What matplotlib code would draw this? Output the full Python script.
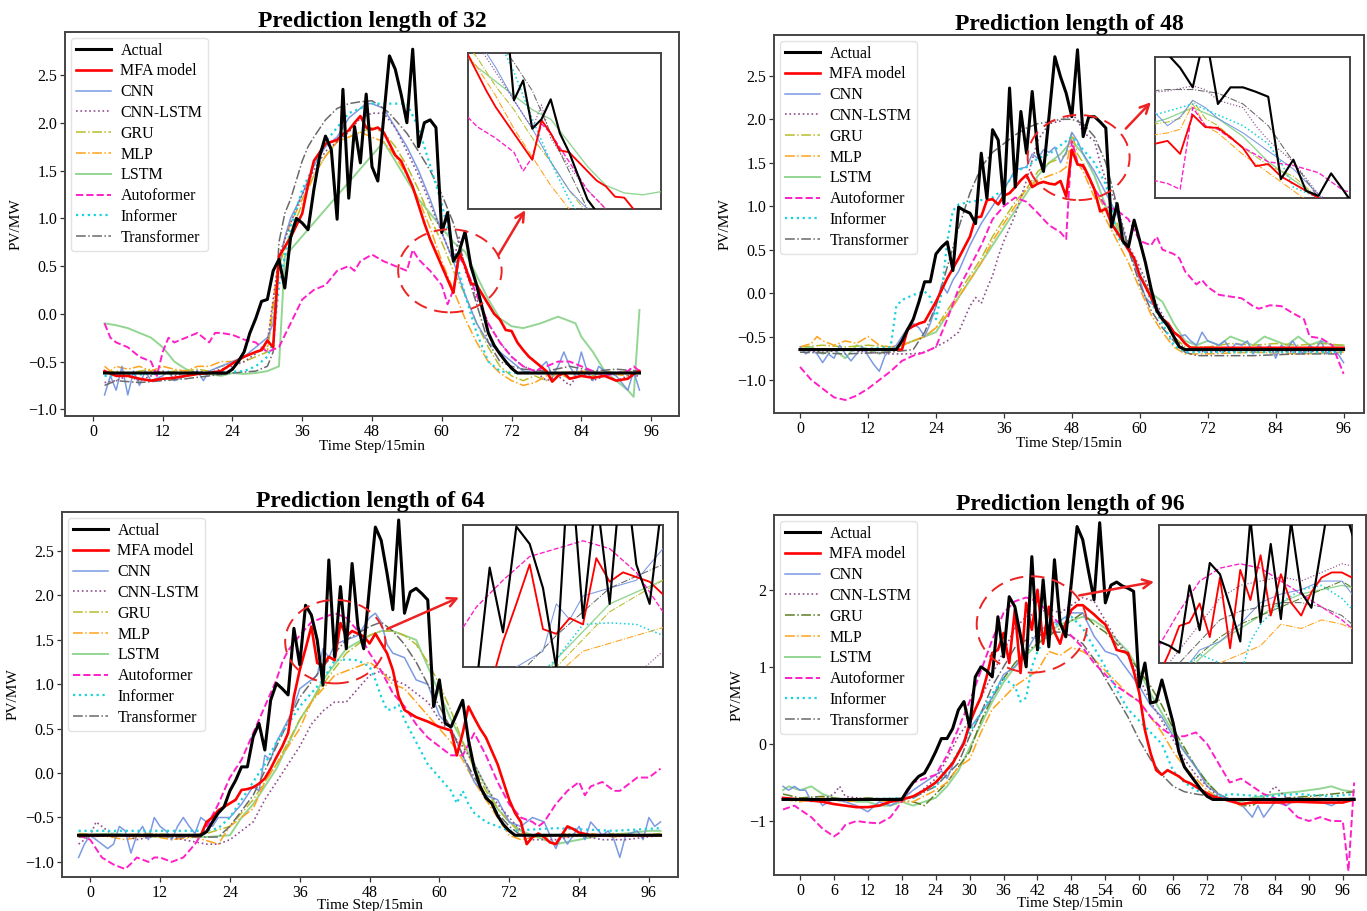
import matplotlib
matplotlib.use("Agg")
import matplotlib.pyplot as plt
from matplotlib.patches import Ellipse

plt.rcParams['font.family'] = ['Liberation Serif', 'DejaVu Serif']

# ---------------- data (step, PV/MW) ----------------
NAMES = ['Actual', 'MFA model', 'CNN', 'CNN-LSTM', 'GRU', 'MLP', 'LSTM',
         'Autoformer', 'Informer', 'Transformer']
TITLES = ['Prediction length of 32', 'Prediction length of 48',
          'Prediction length of 64', 'Prediction length of 96']

# ---- Prediction length 32 ----
P32_ACTUAL = [(2,-0.62),(23,-0.62),(24,-0.58),(25,-0.5),(26,-0.4),(27,-0.2),(28,-0.05),(29,0.13),(30,0.15),(31,0.45),
              (32,0.57),(33,0.27),(34,0.8),(35,1.0),(36,0.95),(37,0.88),(38,1.3),(39,1.65),(40,1.86),(41,1.72),
              (42,0.99),(43,2.35),(44,1.21),(45,1.96),(46,1.58),(47,2.30),(48,1.54),(49,1.39),(50,2.05),(51,2.70),
              (52,2.56),(53,2.3),(54,2.0),(55,2.77),(56,1.75),(57,2.0),(58,2.03),(59,1.95),(60,0.85),(61,1.06),
              (62,0.55),(63,0.65),(64,0.86),(65,0.5),(66,0.3),(67,0.05),(68,-0.2),(69,-0.33),(70,-0.42),(71,-0.5),
              (72,-0.57),(73,-0.62),(94,-0.62)]
P32_MFA = [(2,-0.6),(4,-0.65),(6,-0.65),(8,-0.68),(10,-0.7),(12,-0.68),(14,-0.67),(16,-0.65),(18,-0.63),(20,-0.62),
           (22,-0.6),(24,-0.52),(26,-0.45),(28,-0.4),(29,-0.38),(30,-0.28),(31,-0.35),(32,0.6),(34,0.8),(36,1.05),
           (37,1.35),(38,1.6),(40,1.78),(42,1.82),(43,1.88),(44,1.92),(45,2.0),(46,2.07),(47,1.95),(48,1.93),
           (49,1.95),(50,1.9),(52,1.66),(53,1.6),(55,1.33),(57,0.95),(58,0.78),(60,0.5),(62,0.22),(63,0.64),
           (64,0.5),(65,0.32),(66,0.3),(67,0.2),(68,0.1),(69,0.0),(70,-0.06),(71,-0.17),(72,-0.18),(73,-0.3),
           (74,-0.38),(75,-0.45),(77,-0.55),(78,-0.6),(79,-0.71),(80,-0.65),(81,-0.62),(82,-0.68),(84,-0.65),
           (86,-0.67),(88,-0.65),(90,-0.7),(92,-0.68),(93,-0.63),(94,-0.6)]
P32_CNN = [(2,-0.85),(3,-0.65),(4,-0.8),(5,-0.55),(6,-0.85),(7,-0.6),(8,-0.75),(9,-0.6),(10,-0.7),(12,-0.65),
           (13,-0.6),(14,-0.7),(16,-0.65),(18,-0.6),(19,-0.7),(20,-0.6),(22,-0.55),(24,-0.5),(26,-0.45),(28,-0.35),
           (30,-0.25),(31,-0.1),(32,0.5),(33,0.8),(34,1.0),(36,1.25),(38,1.55),(40,1.75),(42,1.85),(44,2.05),
           (46,2.15),(47,2.2),(48,2.2),(50,2.15),(52,1.95),(54,1.75),(56,1.5),(58,1.2),(60,0.85),(62,0.55),
           (64,0.2),(66,-0.1),(68,-0.3),(70,-0.4),(71,-0.45),(72,-0.5),(74,-0.6),(76,-0.62),(78,-0.5),(79,-0.65),
           (80,-0.55),(81,-0.4),(82,-0.55),(83,-0.65),(84,-0.4),(85,-0.6),(86,-0.7),(87,-0.55),(88,-0.6),
           (90,-0.65),(92,-0.8),(93,-0.6),(94,-0.8)]
P32_CNNLSTM = [(2,-0.72),(4,-0.7),(6,-0.65),(8,-0.7),(10,-0.65),(12,-0.6),(14,-0.65),(16,-0.62),(18,-0.6),(20,-0.62),
               (22,-0.58),(24,-0.55),(26,-0.5),(28,-0.42),(30,-0.3),(32,0.6),(34,0.95),(36,1.25),(38,1.5),(40,1.7),
               (42,1.8),(44,1.9),(46,2.05),(48,2.1),(50,2.1),(52,1.95),(54,1.7),(56,1.45),(58,1.15),(60,0.85),
               (62,0.55),(63,0.8),(64,0.45),(66,0.15),(68,-0.1),(70,-0.3),(72,-0.45),(74,-0.55),(76,-0.6),(78,-0.7),
               (80,-0.65),(82,-0.75),(84,-0.6),(86,-0.7),(88,-0.65),(90,-0.7),(92,-0.65),(94,-0.65)]
P32_GRU = [(2,-0.62),(4,-0.6),(6,-0.62),(8,-0.6),(10,-0.58),(12,-0.62),(14,-0.6),(16,-0.6),(18,-0.58),(20,-0.6),
           (22,-0.55),(24,-0.52),(26,-0.5),(28,-0.45),(30,-0.4),(32,0.5),(34,0.85),(36,1.15),(38,1.45),(40,1.65),
           (42,1.8),(44,1.85),(46,1.9),(48,1.95),(50,1.9),(52,1.75),(54,1.55),(56,1.3),(58,1.0),(60,0.75),
           (62,0.45),(64,0.2),(66,-0.1),(68,-0.35),(70,-0.55),(72,-0.65),(74,-0.7),(76,-0.65),(78,-0.7),
           (80,-0.62),(82,-0.68),(84,-0.6),(86,-0.65),(88,-0.6),(90,-0.62),(92,-0.6),(94,-0.62)]
P32_MLP = [(2,-0.55),(3,-0.6),(4,-0.55),(6,-0.58),(8,-0.55),(10,-0.6),(12,-0.55),(14,-0.58),(16,-0.6),(18,-0.55),
           (20,-0.55),(22,-0.5),(24,-0.5),(26,-0.45),(28,-0.4),(30,-0.35),(32,0.6),(34,0.95),(36,1.2),(38,1.45),
           (40,1.65),(42,1.8),(44,1.85),(46,1.9),(48,1.85),(50,1.8),(52,1.65),(54,1.45),(56,1.2),(58,0.9),
           (60,0.55),(62,0.25),(64,-0.05),(66,-0.3),(68,-0.5),(70,-0.62),(72,-0.7),(74,-0.75),(76,-0.72),
           (78,-0.65),(80,-0.62),(84,-0.6),(88,-0.62),(92,-0.65),(94,-0.6)]
P32_LSTM = [(2,-0.1),(4,-0.12),(6,-0.15),(8,-0.2),(10,-0.25),(12,-0.35),(14,-0.5),(16,-0.58),(18,-0.62),(20,-0.63),
            (22,-0.65),(24,-0.62),(26,-0.63),(28,-0.62),(30,-0.6),(32,-0.55),(33,0.6),(50,1.8),(52,1.6),(56,1.2),
            (60,0.9),(62,0.75),(64,0.65),(66,0.4),(68,0.15),(70,-0.05),(72,-0.13),(74,-0.15),(77,-0.1),
            (80,-0.03),(83,-0.1),(84,-0.24),(86,-0.4),(88,-0.6),(90,-0.7),(92,-0.8),(93,-0.87),(94,0.04)]
P32_AUTO = [(2,-0.1),(3,-0.25),(4,-0.3),(6,-0.35),(8,-0.45),(10,-0.5),(11,-0.65),(12,-0.4),(13,-0.25),(14,-0.3),
            (16,-0.25),(18,-0.2),(20,-0.3),(21,-0.2),(22,-0.2),(24,-0.22),(26,-0.27),(28,-0.3),(30,-0.4),
            (32,-0.35),(34,-0.1),(36,0.15),(38,0.25),(40,0.3),(42,0.45),(44,0.5),(45,0.45),(46,0.55),(48,0.62),
            (50,0.55),(52,0.5),(54,0.45),(55,0.67),(56,0.57),(58,0.45),(60,0.3),(61,0.1),(62,0.25),(63,0.6),
            (64,0.5),(66,0.2),(68,-0.1),(70,-0.3),(72,-0.45),(74,-0.55),(76,-0.6),(78,-0.55),(80,-0.5),
            (82,-0.5),(84,-0.55),(86,-0.6),(88,-0.65),(90,-0.62),(92,-0.6),(93,-0.55),(94,-0.6)]
P32_INFORMER = [(2,-0.65),(10,-0.63),(20,-0.62),(26,-0.6),(28,-0.55),(30,-0.45),(31,-0.3),(32,0.3),(34,0.9),
                (36,1.3),(38,1.55),(40,1.8),(42,1.95),(44,2.1),(46,2.15),(48,2.2),(50,2.2),(52,2.2),(54,2.2),
                (56,1.95),(58,1.55),(60,1.15),(62,0.65),(64,0.2),(66,-0.2),(68,-0.5),(70,-0.6),(72,-0.62),
                (80,-0.62),(94,-0.62)]
P32_TRANS = [(2,-0.75),(4,-0.7),(8,-0.72),(12,-0.7),(16,-0.68),(20,-0.65),(24,-0.62),(28,-0.6),(30,-0.55),
             (31,-0.4),(32,0.75),(33,1.05),(34,1.2),(36,1.6),(37,1.75),(38,1.85),(40,2.03),(42,2.15),(44,2.2),
             (46,2.22),(48,2.23),(50,2.15),(51,2.1),(54,1.89),(56,1.7),(58,1.5),(60,1.25),(62,0.95),(64,0.5),
             (66,0.1),(68,-0.3),(70,-0.5),(72,-0.55),(74,-0.58),(78,-0.6),(82,-0.55),(86,-0.6),(90,-0.58),
             (94,-0.6)]

# ---- Prediction length 48 ----
P48_ACTUAL = [(0,-0.65),(17,-0.65),(18,-0.55),(19,-0.42),(20,-0.3),(21,-0.1),(22,0.13),(23,0.13),(24,0.45),
              (25,0.53),(26,0.59),(27,0.26),(28,0.99),(29,0.95),(30,0.92),(31,0.8),(32,1.61),(33,1.09),(34,1.88),
              (35,1.76),(36,1.03),(37,2.36),(38,1.22),(39,2.09),(40,1.61),(41,2.32),(42,1.61),(43,1.40),(44,2.05),
              (45,2.72),(46,2.49),(47,2.3),(48,2.03),(49,2.80),(50,1.8),(51,2.03),(52,2.03),(53,1.97),(54,1.9),
              (55,0.76),(56,1.03),(57,0.6),(58,0.53),(59,0.84),(60,0.6),(61,0.35),(62,0.05),(63,-0.2),(64,-0.3),
              (65,-0.38),(66,-0.5),(67,-0.62),(68,-0.65),(96,-0.65)]
P48_MFA = [(0,-0.65),(18,-0.65),(19,-0.42),(20,-0.38),(21,-0.35),(22,-0.33),(24,-0.1),(26,0.17),(28,0.4),
           (30,0.65),(31,0.87),(32,0.88),(33,1.07),(34,1.08),(35,1.02),(36,1.12),(37,1.15),(38,1.22),(39,1.3),
           (40,1.36),(41,1.22),(42,1.26),(43,1.28),(44,1.26),(45,1.25),(46,1.29),(47,1.11),(48,1.65),(49,1.48),
           (50,1.47),(51,1.34),(52,1.19),(53,0.94),(54,0.97),(55,0.8),(57,0.6),(58,0.5),(59,0.4),(60,0.2),
           (62,-0.05),(63,-0.2),(64,-0.3),(65,-0.35),(66,-0.45),(67,-0.5),(68,-0.58),(69,-0.63),(96,-0.63)]
P48_CNN = [(0,-0.62),(1,-0.7),(2,-0.65),(3,-0.7),(4,-0.8),(5,-0.7),(6,-0.75),(7,-0.6),(8,-0.7),(9,-0.78),
           (10,-0.7),(11,-0.62),(12,-0.72),(13,-0.82),(14,-0.9),(15,-0.72),(16,-0.65),(17,-0.6),(18,-0.5),
           (19,-0.4),(20,-0.35),(21,-0.4),(22,-0.5),(23,-0.35),(24,-0.15),(25,0.1),(26,0.0),(27,0.15),(28,0.25),
           (30,0.55),(32,0.8),(34,1.0),(36,1.2),(37,1.3),(38,1.42),(40,1.45),(41,1.6),(42,1.55),(43,1.65),
           (44,1.62),(45,1.68),(46,1.5),(47,1.62),(48,1.85),(49,1.75),(50,1.6),(52,1.4),(54,1.15),(56,0.9),
           (58,0.55),(60,0.15),(61,-0.05),(62,-0.12),(63,-0.15),(64,-0.3),(65,-0.35),(66,-0.45),(67,-0.5),
           (68,-0.48),(69,-0.55),(70,-0.6),(71,-0.45),(72,-0.55),(74,-0.6),(75,-0.55),(76,-0.65),(77,-0.58),
           (78,-0.6),(79,-0.55),(80,-0.7),(81,-0.6),(82,-0.65),(83,-0.6),(84,-0.75),(85,-0.6),(86,-0.65),
           (87,-0.55),(88,-0.65),(89,-0.7),(90,-0.6),(91,-0.65),(92,-0.55),(93,-0.7),(94,-0.65),(95,-0.7),
           (96,-0.8)]
P48_CNNLSTM = [(0,-0.65),(4,-0.68),(8,-0.65),(12,-0.68),(16,-0.7),(20,-0.7),(22,-0.68),(24,-0.62),(26,-0.55),
               (28,-0.45),(29,-0.3),(30,-0.15),(31,-0.05),(32,-0.12),(33,0.05),(34,0.2),(35,0.42),(36,0.6),
               (38,0.9),(39,1.1),(40,1.3),(42,1.76),(44,1.95),(46,1.98),(48,2.05),(49,2.0),(50,1.85),(52,1.75),
               (53,1.5),(54,1.3),(56,1.0),(58,0.55),(60,0.3),(62,0.0),(64,-0.25),(66,-0.5),(68,-0.65),
               (72,-0.68),(80,-0.65),(88,-0.68),(96,-0.65)]
P48_GRU = [(0,-0.62),(4,-0.6),(8,-0.62),(12,-0.6),(16,-0.62),(18,-0.6),(20,-0.55),(22,-0.5),(24,-0.4),(26,-0.2),
           (28,0.0),(30,0.2),(32,0.4),(34,0.65),(36,0.85),(38,1.05),(40,1.2),(42,1.4),(44,1.5),(46,1.55),
           (47,1.6),(48,1.85),(49,1.6),(50,1.5),(52,1.2),(54,0.95),(56,0.8),(58,0.5),(60,0.2),(62,-0.05),
           (64,-0.3),(66,-0.5),(68,-0.62),(72,-0.62),(76,-0.58),(80,-0.6),(84,-0.58),(88,-0.6),(92,-0.58),
           (96,-0.6)]
P48_MLP = [(0,-0.62),(2,-0.58),(3,-0.5),(4,-0.55),(6,-0.6),(8,-0.55),(10,-0.58),(12,-0.5),(13,-0.55),(14,-0.6),
           (16,-0.62),(18,-0.6),(20,-0.55),(22,-0.5),(24,-0.4),(26,-0.25),(28,-0.05),(30,0.15),(32,0.35),
           (34,0.6),(36,0.8),(38,1.0),(40,1.2),(42,1.3),(44,1.35),(46,1.4),(47,1.45),(48,1.8),(49,1.5),
           (50,1.4),(52,1.1),(54,0.85),(56,0.6),(58,0.35),(60,0.05),(62,-0.25),(64,-0.45),(66,-0.62),
           (68,-0.7),(72,-0.7),(80,-0.68),(88,-0.7),(96,-0.68)]
P48_LSTM = [(0,-0.65),(2,-0.62),(4,-0.7),(6,-0.65),(8,-0.75),(10,-0.6),(12,-0.65),(14,-0.7),(16,-0.65),(18,-0.6),
            (20,-0.55),(22,-0.5),(24,-0.45),(26,-0.25),(28,-0.05),(30,0.15),(32,0.35),(34,0.55),(36,0.75),
            (38,0.95),(40,1.15),(42,1.35),(44,1.5),(46,1.6),(48,1.75),(50,1.6),(52,1.35),(54,1.0),(56,0.75),
            (58,0.5),(60,0.2),(62,0.0),(64,-0.1),(66,-0.35),(68,-0.55),(70,-0.6),(72,-0.55),(74,-0.6),
            (76,-0.5),(78,-0.55),(80,-0.6),(82,-0.5),(84,-0.55),(86,-0.6),(88,-0.5),(90,-0.6),(92,-0.55),
            (94,-0.6),(96,-0.6)]
P48_AUTO = [(0,-0.85),(2,-1.0),(4,-1.1),(6,-1.2),(8,-1.23),(10,-1.18),(12,-1.1),(14,-1.0),(16,-0.9),(18,-0.78),
            (20,-0.72),(22,-0.68),(24,-0.62),(26,-0.3),(28,0.05),(30,0.3),(32,0.55),(34,0.85),(36,1.0),
            (38,1.1),(40,1.05),(42,0.92),(44,0.78),(46,0.7),(47,0.62),(48,1.75),(49,1.5),(50,1.45),(52,1.2),
            (54,1.0),(56,0.95),(58,0.85),(60,0.6),(62,0.55),(63,0.65),(64,0.5),(66,0.45),(67,0.4),(68,0.25),
            (70,0.1),(71,0.15),(72,0.07),(74,-0.02),(76,-0.04),(78,-0.06),(80,-0.15),(81,-0.18),(83,-0.14),
            (85,-0.15),(87,-0.23),(89,-0.3),(90,-0.5),(92,-0.52),(94,-0.6),(96,-0.93)]
P48_INFORMER = [(0,-0.65),(10,-0.65),(16,-0.62),(17,-0.15),(18,-0.08),(20,-0.02),(22,0.02),(23,-0.05),
                (24,-0.3),(25,0.0),(26,0.6),(27,0.95),(28,1.02),(30,1.05),(32,1.07),(34,1.1),(36,1.2),
                (38,1.4),(40,1.45),(42,1.55),(44,1.6),(46,1.7),(48,1.8),(50,1.65),(52,1.5),(54,1.25),
                (55,1.0),(56,0.65),(58,0.5),(60,0.25),(62,-0.1),(64,-0.35),(66,-0.6),(68,-0.68),(80,-0.68),
                (96,-0.68)]
P48_TRANS = [(0,-0.68),(8,-0.7),(16,-0.68),(20,-0.65),(22,-0.45),(24,-0.15),(26,0.3),(28,0.75),(30,1.15),
             (32,1.45),(34,1.62),(36,1.72),(38,1.82),(40,1.9),(42,1.95),(44,1.97),(46,2.0),(48,2.0),(50,1.95),
             (52,1.8),(54,1.5),(56,1.0),(58,0.5),(60,0.1),(62,-0.2),(64,-0.4),(66,-0.55),(68,-0.68),
             (70,-0.72),(80,-0.72),(88,-0.7),(96,-0.7)]

# ---- Prediction length 64 ----
P64_ACTUAL = [(-2,-0.7),(19,-0.7),(20,-0.66),(21,-0.55),(22,-0.45),(23,-0.38),(24,-0.2),(25,-0.08),(26,0.07),
              (27,0.07),(28,0.41),(29,0.56),(30,0.26),(31,0.82),(32,1.01),(33,0.95),(34,0.88),(35,1.63),
              (36,1.22),(37,1.89),(38,1.78),(39,1.5),(40,0.99),(41,2.40),(42,1.31),(43,2.10),(44,1.40),
              (45,2.36),(46,1.65),(47,1.40),(48,2.1),(49,2.77),(50,2.62),(51,2.25),(52,1.84),(53,2.85),
              (54,1.80),(55,2.04),(56,2.08),(57,2.02),(58,1.95),(59,0.75),(60,1.05),(61,0.56),(62,0.52),
              (63,0.67),(64,0.82),(65,0.37),(66,0.05),(67,-0.15),(68,-0.28),(69,-0.34),(70,-0.48),(71,-0.58),
              (72,-0.65),(73,-0.7),(98,-0.7)]
P64_MFA = [(-2,-0.7),(19,-0.7),(20,-0.55),(21,-0.5),(22,-0.42),(23,-0.38),(24,-0.34),(25,-0.3),(26,-0.19),
           (27,-0.18),(28,-0.16),(29,-0.12),(30,-0.06),(31,0.05),(32,0.18),(33,0.3),(34,0.45),(35,0.86),
           (36,1.16),(37,1.4),(38,1.65),(39,1.24),(40,1.21),(41,1.31),(42,1.27),(43,1.69),(44,1.54),(45,1.6),
           (46,1.57),(47,1.54),(48,1.46),(49,1.57),(50,1.46),(51,1.35),(52,1.16),(53,0.86),(54,0.71),
           (55,0.67),(56,0.63),(58,0.58),(60,0.52),(62,0.48),(63,0.2),(64,0.45),(65,0.75),(66,0.62),(67,0.5),
           (68,0.4),(69,0.25),(70,0.1),(71,-0.1),(72,-0.3),(73,-0.45),(74,-0.55),(75,-0.8),(76,-0.72),
           (77,-0.68),(78,-0.72),(79,-0.78),(80,-0.8),(81,-0.7),(82,-0.6),(83,-0.63),(84,-0.67),(86,-0.7),
           (98,-0.7)]
P64_CNN = [(-2,-0.95),(-1,-0.8),(0,-0.7),(1,-0.75),(2,-0.8),(3,-0.85),(4,-0.8),(5,-0.6),(6,-0.65),(7,-0.9),
           (8,-0.7),(9,-0.6),(10,-0.75),(11,-0.5),(12,-0.6),(13,-0.65),(14,-0.75),(15,-0.6),(16,-0.5),
           (17,-0.6),(18,-0.68),(19,-0.5),(20,-0.55),(21,-0.6),(22,-0.5),(24,-0.5),(26,-0.35),(28,-0.15),
           (29,-0.2),(30,0.2),(31,0.15),(32,0.35),(34,0.6),(35,0.75),(36,0.95),(38,1.05),(39,1.1),(40,1.4),
           (41,1.3),(42,1.45),(44,1.5),(46,1.55),(48,1.75),(49,1.8),(50,1.7),(51,1.45),(52,1.35),(54,1.3),
           (56,1.05),(58,1.0),(60,0.65),(62,0.5),(64,0.2),(66,-0.1),(68,-0.25),(70,-0.3),(72,-0.55),
           (74,-0.6),(76,-0.5),(78,-0.55),(80,-0.85),(81,-0.7),(82,-0.8),(84,-0.6),(85,-0.75),(86,-0.55),
           (88,-0.7),(89,-0.65),(90,-0.75),(91,-0.95),(92,-0.7),(94,-0.65),(95,-0.75),(96,-0.5),(97,-0.6),
           (98,-0.55)]
P64_CNNLSTM = [(-2,-0.8),(0,-0.7),(1,-0.55),(2,-0.6),(4,-0.7),(6,-0.7),(8,-0.75),(12,-0.7),(16,-0.75),
               (20,-0.8),(22,-0.8),(24,-0.75),(26,-0.65),(28,-0.55),(30,-0.3),(32,-0.1),(34,0.1),(36,0.3),
               (38,0.55),(40,0.7),(42,0.8),(44,0.8),(46,0.95),(48,1.1),(50,1.15),(52,1.05),(54,1.0),(56,0.9),
               (58,0.8),(60,0.6),(62,0.45),(64,0.3),(66,0.1),(68,-0.15),(70,-0.35),(72,-0.5),(74,-0.65),
               (76,-0.75),(80,-0.75),(84,-0.7),(88,-0.75),(92,-0.75),(98,-0.7)]
P64_GRU = [(-2,-0.68),(4,-0.7),(10,-0.68),(16,-0.7),(20,-0.68),(24,-0.6),(28,-0.3),(32,0.1),(36,0.6),(40,1.0),
           (44,1.35),(48,1.55),(50,1.6),(52,1.6),(54,1.55),(56,1.45),(58,1.25),(60,1.0),(62,0.7),(64,0.35),
           (66,0.05),(68,-0.2),(70,-0.4),(72,-0.55),(74,-0.68),(78,-0.72),(82,-0.68),(86,-0.72),(90,-0.68),
           (94,-0.7),(98,-0.68)]
P64_MLP = [(-2,-0.72),(2,-0.7),(6,-0.75),(10,-0.7),(14,-0.75),(18,-0.72),(22,-0.8),(24,-0.6),(28,-0.4),
           (30,-0.1),(32,0.1),(34,0.3),(36,0.5),(38,0.8),(40,0.95),(42,1.1),(44,1.15),(46,1.2),(48,1.25),
           (50,1.15),(52,1.0),(54,0.95),(56,0.8),(58,0.65),(60,0.5),(62,0.35),(64,0.15),(66,-0.1),(68,-0.3),
           (70,-0.5),(72,-0.7),(74,-0.75),(78,-0.7),(82,-0.72),(86,-0.68),(90,-0.72),(94,-0.7),(98,-0.7)]
P64_LSTM = [(-2,-0.7),(4,-0.68),(10,-0.72),(16,-0.7),(20,-0.72),(24,-0.7),(26,-0.5),(28,-0.35),(32,0.05),
            (36,0.6),(38,0.8),(40,1.05),(44,1.4),(48,1.55),(50,1.6),(52,1.6),(54,1.55),(56,1.5),(58,1.2),
            (60,0.9),(62,0.6),(64,0.35),(66,0.1),(68,-0.15),(70,-0.4),(72,-0.55),(74,-0.65),(76,-0.7),
            (80,-0.8),(84,-0.75),(88,-0.7),(92,-0.68),(96,-0.65),(98,-0.65)]
P64_AUTO = [(-2,-0.7),(0,-0.75),(2,-0.95),(4,-1.03),(6,-1.08),(7,-1.02),(8,-0.95),(10,-1.0),(11,-0.95),
            (12,-0.95),(14,-1.0),(16,-0.95),(18,-0.8),(20,-0.6),(22,-0.35),(24,-0.05),(26,0.15),(28,0.45),
            (30,0.75),(32,1.05),(33,1.25),(34,1.38),(36,1.55),(38,1.7),(40,1.75),(42,1.8),(44,1.75),(46,1.6),
            (48,1.35),(50,1.15),(52,0.9),(54,0.75),(56,0.55),(58,0.4),(60,0.3),(62,0.2),(64,0.2),(66,0.45),
            (68,0.2),(70,-0.1),(72,-0.35),(74,-0.5),(76,-0.55),(77,-0.6),(78,-0.55),(80,-0.35),(82,-0.2),
            (84,-0.1),(85,-0.25),(86,-0.15),(88,-0.1),(90,-0.2),(91,-0.2),(92,-0.15),(94,-0.05),(96,-0.05),
            (98,0.05)]
P64_INFORMER = [(-2,-0.65),(10,-0.65),(20,-0.65),(22,-0.62),(24,-0.5),(26,-0.3),(28,-0.1),(30,0.1),(32,0.35),
                (34,0.55),(36,0.75),(38,0.9),(40,1.05),(42,1.27),(44,1.28),(46,1.27),(48,1.2),(49,1.05),
                (50,0.86),(51,0.71),(52,0.72),(53,0.77),(54,0.6),(56,0.35),(58,0.1),(60,-0.05),(62,-0.2),
                (63,-0.34),(64,-0.2),(65,-0.35),(66,-0.45),(68,-0.55),(70,-0.6),(72,-0.65),(80,-0.62),
                (90,-0.65),(98,-0.62)]
P64_TRANS = [(-2,-0.72),(6,-0.7),(14,-0.72),(22,-0.72),(24,-0.6),(28,-0.25),(32,0.3),(36,0.85),(40,1.2),
             (44,1.5),(48,1.65),(50,1.7),(52,1.6),(54,1.45),(56,1.25),(58,1.0),(60,0.75),(62,0.5),(64,0.2),
             (66,-0.05),(68,-0.25),(70,-0.45),(72,-0.6),(74,-0.7),(86,-0.7),(98,-0.7)]

# ---- Prediction length 96 ----
P96_ACTUAL = [(-3,-0.72),(18,-0.72),(19,-0.6),(20,-0.5),(21,-0.42),(22,-0.38),(23,-0.25),(24,-0.1),(25,0.07),
              (26,0.07),(27,0.2),(28,0.44),(29,0.55),(30,0.22),(31,0.87),(32,1.0),(33,0.95),(34,0.87),(35,1.65),
              (36,1.13),(37,1.91),(38,1.78),(39,1.4),(40,1.0),(41,2.43),(42,1.22),(43,2.13),(44,1.26),(45,2.39),
              (46,1.57),(47,1.39),(48,2.1),(49,2.82),(50,2.65),(51,2.25),(52,1.87),(53,2.87),(54,1.83),
              (55,2.06),(56,2.1),(57,2.05),(58,2.02),(59,1.98),(60,0.74),(61,1.05),(62,0.53),(63,0.55),
              (64,0.83),(65,0.55),(66,0.27),(67,-0.1),(68,-0.3),(69,-0.4),(70,-0.5),(71,-0.6),(72,-0.68),
              (73,-0.72),(98,-0.72)]
P96_MFA = [(-3,-0.7),(0,-0.72),(4,-0.75),(6,-0.78),(8,-0.8),(10,-0.82),(12,-0.82),(14,-0.8),(16,-0.75),
           (18,-0.72),(20,-0.68),(22,-0.6),(24,-0.5),(25,-0.42),(27,-0.25),(29,0.01),(30,0.27),(31,0.45),
           (32,0.61),(33,0.87),(34,1.18),(35,1.22),(36,1.44),(37,1.05),(38,1.74),(39,0.92),(40,1.83),
           (41,1.48),(42,2.0),(43,1.3),(44,1.78),(45,1.45),(46,1.3),(47,1.57),(48,1.74),(49,1.8),(50,1.8),
           (51,1.74),(52,1.68),(53,1.61),(54,1.55),(55,1.4),(56,1.22),(58,1.18),(59,0.95),(60,0.66),
           (61,0.18),(62,-0.12),(63,-0.34),(64,-0.4),(65,-0.34),(66,-0.38),(67,-0.42),(68,-0.48),(69,-0.51),
           (71,-0.6),(73,-0.68),(75,-0.72),(78,-0.78),(80,-0.76),(84,-0.76),(88,-0.75),(92,-0.76),(96,-0.76),
           (98,-0.72)]
P96_CNN = [(-3,-0.55),(-2,-0.6),(-1,-0.55),(0,-0.6),(1,-0.6),(2,-0.75),(3,-0.7),(4,-0.8),(5,-0.75),(6,-0.72),
           (8,-0.75),(10,-0.8),(12,-0.88),(14,-0.75),(16,-0.8),(18,-0.72),(20,-0.6),(22,-0.5),(24,-0.4),
           (25,-0.35),(26,-0.45),(28,-0.1),(30,0.2),(32,0.4),(34,0.6),(36,0.9),(37,0.95),(38,1.0),(40,1.2),
           (42,1.45),(44,1.55),(46,1.6),(48,1.7),(50,1.7),(52,1.4),(54,1.2),(56,1.15),(58,0.95),(60,0.75),
           (62,0.5),(64,0.35),(66,0.1),(68,-0.1),(69,-0.2),(70,-0.3),(72,-0.55),(74,-0.65),(76,-0.72),
           (78,-0.78),(80,-0.95),(81,-0.8),(82,-0.95),(84,-0.75),(86,-0.8),(88,-0.7),(90,-0.72),(92,-0.75),
           (94,-0.8),(96,-0.72),(98,-0.7)]
P96_CNNLSTM = [(-3,-0.72),(4,-0.72),(6,-0.65),(7,-0.55),(8,-0.68),(12,-0.72),(16,-0.72),(20,-0.7),(24,-0.45),
               (26,-0.2),(28,0.1),(30,0.3),(32,0.6),(34,0.9),(36,1.2),(38,1.5),(40,1.65),(42,1.7),(44,1.75),
               (46,1.7),(48,1.8),(50,1.9),(52,1.85),(54,1.6),(56,1.35),(58,1.15),(60,0.85),(62,0.55),(64,0.3),
               (66,0.05),(68,-0.2),(70,-0.4),(72,-0.55),(74,-0.68),(76,-0.72),(82,-0.72),(84,-0.55),(86,-0.7),
               (92,-0.72),(98,-0.72)]
P96_GRU = [(-3,-0.65),(0,-0.7),(4,-0.68),(8,-0.72),(12,-0.7),(16,-0.72),(20,-0.75),(22,-0.8),(24,-0.65),
           (26,-0.5),(28,-0.3),(30,-0.1),(32,0.3),(34,0.6),(36,0.85),(38,1.05),(40,1.2),(42,1.3),(44,1.4),
           (46,1.5),(48,1.6),(50,1.7),(52,1.55),(54,1.45),(56,1.3),(58,1.15),(60,0.95),(62,0.75),(64,0.5),
           (66,0.2),(68,-0.05),(70,-0.3),(72,-0.5),(74,-0.65),(76,-0.72),(78,-0.8),(80,-0.8),(82,-0.7),
           (84,-0.75),(86,-0.7),(90,-0.68),(94,-0.65),(98,-0.62)]
P96_MLP = [(-3,-0.72),(0,-0.75),(4,-0.7),(8,-0.75),(12,-0.72),(16,-0.75),(20,-0.75),(24,-0.6),(26,-0.5),
           (28,-0.3),(30,-0.2),(32,0.15),(34,0.45),(36,0.6),(38,0.75),(40,0.85),(42,0.95),(44,1.2),(46,1.15),
           (48,1.25),(50,1.2),(52,1.1),(54,0.95),(56,0.8),(58,0.65),(60,0.55),(62,0.35),(64,0.15),(66,-0.1),
           (68,-0.3),(70,-0.45),(72,-0.6),(74,-0.7),(76,-0.72),(78,-0.8),(82,-0.72),(86,-0.75),(90,-0.7),
           (94,-0.72),(98,-0.7)]
P96_LSTM = [(-3,-0.6),(-2,-0.55),(0,-0.6),(2,-0.55),(4,-0.65),(6,-0.7),(8,-0.72),(10,-0.75),(12,-0.75),
            (14,-0.8),(16,-0.8),(18,-0.75),(20,-0.8),(22,-0.75),(24,-0.7),(26,-0.55),(28,-0.35),(30,-0.05),
            (32,0.25),(34,0.55),(36,0.8),(38,1.0),(40,1.15),(42,1.3),(44,1.45),(46,1.55),(48,1.6),(50,1.65),
            (52,1.6),(54,1.5),(56,1.35),(58,1.2),(60,0.95),(62,0.65),(64,0.4),(66,0.15),(68,-0.1),(70,-0.3),
            (72,-0.5),(74,-0.65),(76,-0.72),(78,-0.75),(80,-0.7),(84,-0.65),(88,-0.62),(90,-0.6),(92,-0.58),
            (94,-0.55),(96,-0.6),(98,-0.62)]
P96_AUTO = [(-3,-0.85),(-1,-0.8),(0,-0.85),(2,-0.95),(4,-1.1),(5,-1.15),(6,-1.2),(7,-1.15),(8,-1.05),
            (10,-1.0),(12,-1.02),(14,-1.03),(16,-0.95),(18,-0.75),(20,-0.5),(22,-0.45),(24,-0.4),(26,-0.15),
            (28,0.2),(30,0.55),(32,0.95),(34,1.35),(36,1.7),(38,1.85),(40,1.9),(42,1.85),(44,1.7),(46,1.55),
            (48,1.4),(50,1.25),(52,1.05),(54,0.9),(56,0.75),(58,0.65),(60,0.55),(62,0.35),(64,0.2),(66,0.1),
            (68,0.1),(70,0.15),(72,0.0),(74,-0.25),(76,-0.5),(78,-0.45),(80,-0.55),(82,-0.65),(84,-0.7),
            (86,-0.8),(88,-0.95),(90,-1.0),(92,-0.95),(94,-1.0),(96,-1.0),(97,-1.65),(98,-0.5)]
P96_INFORMER = [(-3,-0.72),(10,-0.72),(20,-0.7),(22,-0.6),(24,-0.55),(26,-0.35),(28,-0.1),(30,0.15),(32,0.4),
                (34,0.65),(36,0.85),(38,0.75),(39,0.55),(40,0.6),(41,1.0),(42,1.2),(44,1.45),(46,1.6),
                (48,1.65),(50,1.5),(52,1.25),(54,1.0),(56,0.7),(58,0.45),(60,0.3),(62,0.15),(64,0.0),
                (66,-0.35),(68,-0.5),(70,-0.6),(72,-0.65),(74,-0.68),(76,-0.65),(82,-0.68),(88,-0.65),
                (94,-0.68),(98,-0.65)]
P96_TRANS = [(-3,-0.72),(10,-0.72),(20,-0.7),(24,-0.55),(28,-0.25),(30,0.1),(32,0.4),(34,0.75),(36,1.0),
             (38,1.25),(40,1.35),(42,1.4),(44,1.45),(46,1.45),(48,1.4),(50,1.3),(52,1.1),(54,0.85),(56,0.6),
             (58,0.35),(60,0.05),(62,-0.2),(64,-0.4),(66,-0.55),(68,-0.62),(70,-0.65),(72,-0.67),(76,-0.72),
             (98,-0.72)]

SERIES = [
    [P32_ACTUAL, P32_MFA, P32_CNN, P32_CNNLSTM, P32_GRU, P32_MLP, P32_LSTM, P32_AUTO, P32_INFORMER, P32_TRANS],
    [P48_ACTUAL, P48_MFA, P48_CNN, P48_CNNLSTM, P48_GRU, P48_MLP, P48_LSTM, P48_AUTO, P48_INFORMER, P48_TRANS],
    [P64_ACTUAL, P64_MFA, P64_CNN, P64_CNNLSTM, P64_GRU, P64_MLP, P64_LSTM, P64_AUTO, P64_INFORMER, P64_TRANS],
    [P96_ACTUAL, P96_MFA, P96_CNN, P96_CNNLSTM, P96_GRU, P96_MLP, P96_LSTM, P96_AUTO, P96_INFORMER, P96_TRANS],
]

# ---------------- styles ----------------
STYLES = [
    dict(color='black', lw=2.2, ls='-', zorder=10),
    dict(color='#ff0000', lw=1.9, ls='-', zorder=9),
    dict(color='#6d8fe0', lw=1.1, ls='-', zorder=5, alpha=0.9),
    dict(color='#8e4f8e', lw=1.2, ls=':', zorder=5),
    dict(color='#b9bd2c', lw=1.1, ls='-.', zorder=4),
    dict(color='#ffa31a', lw=1.1, ls='-.', zorder=4),
    dict(color='#78cc78', lw=1.4, ls='-', zorder=3, alpha=0.8),
    dict(color='#ff1fc8', lw=1.4, ls='--', zorder=6),
    dict(color='#19d2df', lw=1.6, ls=':', zorder=6),
    dict(color='#6a6a6a', lw=1.1, ls='-.', zorder=5),
]
GRU_COLORS = ['#b9bd2c', '#b9bd2c', '#b9bd2c', '#5f7d22']

W, H = 1367, 911
fig = plt.figure(figsize=(W / 100, H / 100), dpi=100)


def px_rect(l, t, r, b):
    return [l / W, 1 - b / H, (r - l) / W, (b - t) / H]


LAYOUT = [
    dict(rect=(65, 32, 679, 416), xlim=(-4.8, 100.8), ylim=(-1.07, 2.95),
         yt=[-1.0, -0.5, 0.0, 0.5, 1.0, 1.5, 2.0, 2.5], xt=list(range(0, 97, 12)),
         inset=(468, 53, 661, 209), ixl=(55, 76), iyl=(-0.3, 1.35),
         ell=(61.4, 0.45, 17.8, 0.87), arr=((69.5, 0.59), (74.6, 1.11))),
    dict(rect=(774, 35, 1364, 413), xlim=(-4.6, 99.6), ylim=(-1.38, 2.97),
         yt=[-1.0, -0.5, 0.0, 0.5, 1.0, 1.5, 2.0, 2.5], xt=list(range(0, 97, 12)),
         inset=(1155, 57, 1350, 198), ixl=(45, 60.5), iyl=(0.5, 2.45),
         ell=(49.2, 1.56, 18.0, 0.98), arr=((57.2, 1.87), (62.3, 2.22))),
    dict(rect=(62, 512, 678, 877), xlim=(-4.85, 101.0), ylim=(-1.17, 2.94),
         yt=[-1.0, -0.5, 0.0, 0.5, 1.0, 1.5, 2.0, 2.5], xt=list(range(0, 97, 12)),
         inset=(463, 525, 663, 667), ixl=(33, 48), iyl=(1.0, 1.9),
         ell=(42.1, 1.48, 17.2, 0.94), arr=((50.6, 1.61), (63.8, 1.99))),
    dict(rect=(774, 515, 1366, 875), xlim=(-4.6, 100.1), ylim=(-1.70, 2.97),
         yt=[-1, 0, 1, 2], xt=list(range(0, 97, 6)),
         inset=(1159, 525, 1352, 663), ixl=(32, 51), iyl=(0.75, 2.35),
         ell=(41.0, 1.55, 19.5, 1.25), arr=((48.9, 1.92), (63.1, 2.11))),
]

for k, (title, series, lay) in enumerate(zip(TITLES, SERIES, LAYOUT)):
    ax = fig.add_axes(px_rect(*lay['rect']))
    for j, (name, data, st) in enumerate(zip(NAMES, series, STYLES)):
        xs = [p[0] for p in data]
        ys = [p[1] for p in data]
        col = GRU_COLORS[k] if name == 'GRU' else st['color']
        ax.plot(xs, ys, label=name, color=col, lw=st['lw'], ls=st['ls'],
                zorder=st['zorder'], alpha=st.get('alpha', 1.0))
    ax.set_xlim(*lay['xlim'])
    ax.set_ylim(*lay['ylim'])
    ax.set_xticks(lay['xt'])
    ax.set_yticks(lay['yt'])
    ax.tick_params(labelsize=11.5, length=3.5, width=0.9, color='#333333', pad=2)
    for sp in ax.spines.values():
        sp.set_color('#444444')
        sp.set_linewidth(1.4)
    ax.set_title(title, fontsize=17, fontweight='bold', pad=3)
    ax.set_xlabel('Time Step/15min', fontsize=11, labelpad=0 if k < 2 else -1.5)
    ax.set_ylabel('PV/MW', fontsize=11)
    leg = ax.legend(loc='upper left', fontsize=11.5, handlelength=2.2, handletextpad=0.6,
                    labelspacing=0.3, borderpad=0.32, borderaxespad=0.35,
                    framealpha=0.85, edgecolor='#dddddd')
    leg.set_zorder(20)

    # highlight ellipse + arrow
    cx, cy, ew, eh = lay['ell']
    ax.add_patch(Ellipse((cx, cy), ew, eh, fill=False, ec='#ee2222', lw=1.4,
                         ls=(0, (7, 4)), zorder=12))
    (x0, y0), (x1, y1) = lay['arr']
    ax.annotate('', xy=(x1, y1), xytext=(x0, y0),
                arrowprops=dict(arrowstyle='->', color='#ee2222', lw=1.8, mutation_scale=16),
                annotation_clip=False, zorder=12)

    # zoomed inset
    ins = fig.add_axes(px_rect(*lay['inset']))
    for name, data, st in zip(NAMES, series, STYLES):
        xs = [p[0] for p in data]
        ys = [p[1] for p in data]
        col = GRU_COLORS[k] if name == 'GRU' else st['color']
        ins.plot(xs, ys, color=col, lw=st['lw'] * 0.7, ls=st['ls'],
                 zorder=st['zorder'], alpha=st.get('alpha', 1.0))
    ins.set_xlim(*lay['ixl'])
    ins.set_ylim(*lay['iyl'])
    ins.set_xticks([])
    ins.set_yticks([])
    for sp in ins.spines.values():
        sp.set_color('#444444')
        sp.set_linewidth(1.4)
    ins.set_zorder(25)

fig.savefig('out.png', dpi=100)
